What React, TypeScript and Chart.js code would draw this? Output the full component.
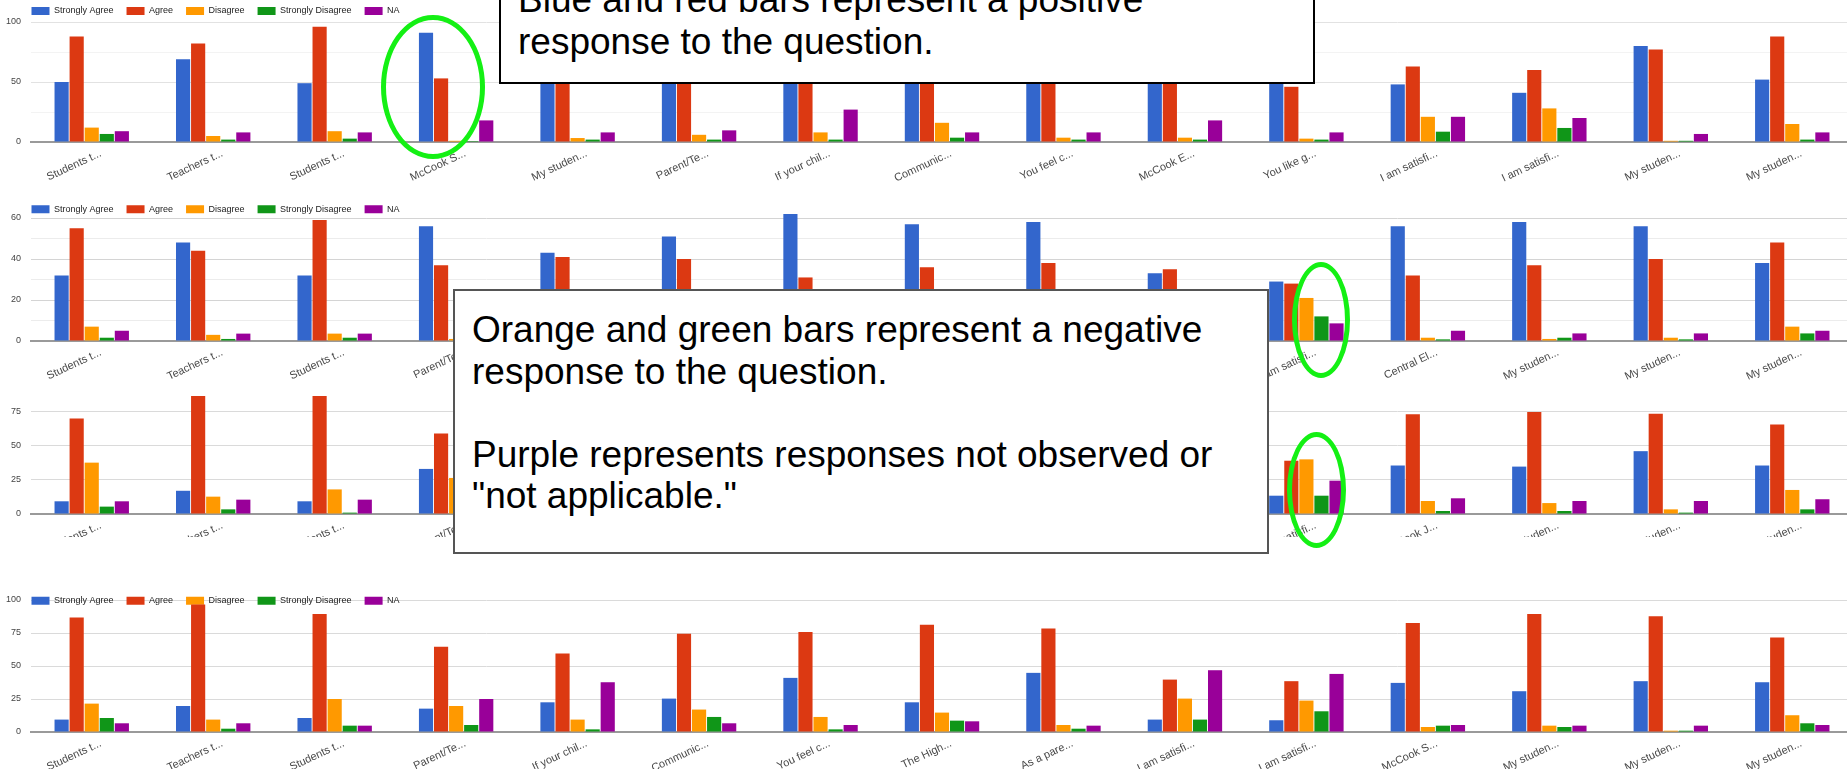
import React, { useEffect, useRef } from 'react';
import { Chart, registerables } from 'chart.js';

Chart.register(...registerables);

const FONT = "'Liberation Sans', Arial, Helvetica, sans-serif";
Chart.defaults.font.family = FONT;

const SERIES = ['Strongly Agree', 'Agree', 'Disagree', 'Strongly Disagree', 'NA'];
const COLORS = ['#3366cc', '#dc3912', '#ff9900', '#109618', '#990099'];

// ---- Chart 1 ----
const labels1 = ['Students t...', 'Teachers t...', 'Students t...', 'McCook S...', 'My studen...', 'Parent/Te...', 'If your chil...', 'Communic...', 'You feel c...', 'McCook E...', 'You like g...', 'I am satisfi...', 'I am satisfi...', 'My studen...', 'My studen...'];
const sa1 = [50, 69, 49, 91, 72, 68, 64, 70, 66, 62, 56, 48, 41, 80, 52];
const a1 = [88, 82, 96, 53, 85, 86, 80, 82, 88, 84, 46, 63, 60, 77, 88];
const d1 = [12, 5, 9, 1, 3.3, 6, 8, 16, 3.6, 3.6, 2.8, 21, 28, 1, 15];
const sd1 = [6.7, 2, 2.8, 0.8, 2, 2, 2, 3.6, 2, 2, 2, 8.6, 11.7, 1, 2];
const na1 = [9, 8, 8, 18, 8, 9.7, 27, 8, 8, 18, 8, 21, 20, 6.7, 8];

// ---- Chart 2 ----
const labels2 = ['Students t...', 'Teachers t...', 'Students t...', 'Parent/Te...', 'My studen...', 'If your chil...', 'Communic...', 'You feel c...', 'McCook E...', 'You like g...', 'I am satisfi...', 'Central El...', 'My studen...', 'My studen...', 'My studen...'];
const sa2 = [32, 48, 32, 56, 43, 51, 62, 57, 58, 33, 29, 56, 58, 56, 38];
const a2 = [55, 44, 59, 37, 41, 40, 31, 36, 38, 35, 28, 32, 37, 40, 48];
const d2 = [7, 3, 3.6, 1, 4, 3, 2, 3, 2, 8, 21, 1.6, 1, 1.6, 7];
const sd2 = [1.6, 1, 1.6, 1, 1, 1, 1, 1, 1, 2, 12, 0.8, 1.6, 0.8, 3.7];
const na2 = [5, 3.6, 3.6, 4, 3, 4, 4, 3, 3, 5, 8.6, 5, 3.7, 3.7, 5];

// ---- Chart 3 ----
const labels3 = ['Students t...', 'Teachers t...', 'Students t...', 'Parent/Te...', 'If your chil...', 'Communic...', 'You feel c...', 'The High...', 'As a pare...', 'I am satisfi...', 'I am satisfi...', 'McCook J...', 'My studen...', 'My studen...', 'My studen...'];
const sa3 = [9.3, 17, 9.3, 33, 20, 24, 38, 21, 42, 10, 13.4, 35.5, 34.7, 46, 35.5];
const a3 = [70, 88, 88, 59, 58, 72, 74, 80, 76, 40, 39, 73, 74.6, 73.3, 65.5];
const d3 = [37.6, 12.7, 18, 26.4, 10, 16, 11, 14, 6, 27, 40, 9.5, 8, 3.4, 17.6];
const sd3 = [5.4, 3.4, 1, 5, 2, 10, 2, 8, 2, 10, 13.4, 2.2, 2.2, 1, 3.4];
const na3 = [9.3, 10.5, 10.5, 24, 36, 7, 5, 8, 5, 45, 24.4, 11.5, 9.5, 9.5, 10.8];

// ---- Chart 4 ----
const labels4 = ['Students t...', 'Teachers t...', 'Students t...', 'Parent/Te...', 'If your chil...', 'Communic...', 'You feel c...', 'The High...', 'As a pare...', 'I am satisfi...', 'I am satisfi...', 'McCook S...', 'My studen...', 'My studen...', 'My studen...'];
const sa4 = [9.4, 19.7, 10.6, 17.7, 22.5, 25.3, 41, 22.5, 44.8, 9.4, 8.9, 37.2, 30.9, 38.5, 37.7];
const a4 = [86.8, 96.5, 89.4, 64.6, 59.5, 74.4, 75.7, 81.3, 78.5, 39.7, 38.5, 82.5, 89.4, 87.6, 71.6];
const d4 = [21.5, 9.4, 25, 19.7, 9.4, 17, 11.4, 14.7, 5.3, 25.3, 23.8, 3.8, 4.8, 1, 12.7];
const sd4 = [10.6, 2.5, 4.8, 5.3, 2, 11.4, 2, 8.6, 2.5, 9.4, 15.7, 4.8, 3.8, 1, 6.6];
const na4 = [6.6, 6.6, 4.8, 25, 37.7, 6.6, 5.3, 8.1, 4.8, 46.8, 44, 5.3, 4.8, 4.8, 5.3];

const CANVAS_W = 1853;
const LEGEND_PAD = 13;
const LEGEND_FONT = 9;

type Spec = {
  labels: string[];
  series: number[][];
  max: number;
  step: number;
  labelEvery: number;
  majorColor: string;
  minorColor: string;
  boxTop: number;
  boxHeight: number;
  areaTop: number;
  areaBottom: number;
  legendCy: number | null; // legend centre relative to chart area top
};

const specs: Spec[] = [
  { labels: labels1, series: [sa1, a1, d1, sd1, na1], max: 100, step: 25, labelEvery: 50, majorColor: '#e2e2e2', minorColor: '#f3f3f3', boxTop: 0, boxHeight: 190, areaTop: 22, areaBottom: 142, legendCy: -11 },
  { labels: labels2, series: [sa2, a2, d2, sd2, na2], max: 60, step: 10, labelEvery: 20, majorColor: '#d4d4d4', minorColor: '#ececec', boxTop: 190, boxHeight: 200, areaTop: 218, areaBottom: 340.7, legendCy: -8.7 },
  { labels: labels3, series: [sa3, a3, d3, sd3, na3], max: 100, step: 25, labelEvery: 25, majorColor: '#dadada', minorColor: '#dadada', boxTop: 396, boxHeight: 141, areaTop: 377.2, areaBottom: 513.7, legendCy: null },
  { labels: labels4, series: [sa4, a4, d4, sd4, na4], max: 100, step: 25, labelEvery: 25, majorColor: '#dadada', minorColor: '#dadada', boxTop: 555, boxHeight: 214, areaTop: 600.3, areaBottom: 732, legendCy: 0.7 },
];

const legendShift = {
  id: 'legendShift',
  afterLayout(chart: any, _args: any, opts: any) {
    const l = chart.legend;
    if (!l || !opts || opts.cy === undefined || opts.cy === null) return;
    const newTop = chart.chartArea.top + opts.cy - LEGEND_PAD - LEGEND_FONT / 2;
    const newLeft = opts.left - LEGEND_PAD;
    const dy = newTop - l.top;
    const dx = newLeft - l.left;
    l.top += dy; l.bottom += dy;
    l.left += dx; l.right += dx;
  },
};

function Panel({ spec }: { spec: Spec }) {
  const ref = useRef<HTMLCanvasElement | null>(null);
  const hasLegend = spec.legendCy !== null;
  const initH = Math.round((hasLegend ? 32 : 4) + (spec.areaBottom - spec.areaTop) + 50);

  useEffect(() => {
    const canvas = ref.current;
    if (!canvas) return;
    const chart = new Chart(canvas, {
      type: 'bar',
      data: {
        labels: spec.labels,
        datasets: SERIES.map((name, i) => ({
          label: name,
          data: spec.series[i],
          backgroundColor: COLORS[i],
          borderWidth: 0,
          barPercentage: 0.94,
          categoryPercentage: 0.62,
          clip: false as any,
        })),
      },
      options: {
        animation: false,
        responsive: false,
        maintainAspectRatio: false,
        devicePixelRatio: 1,
        layout: { padding: { left: 0, right: 0, top: hasLegend ? 0 : 4, bottom: 0 } },
        plugins: {
          legend: {
            display: hasLegend,
            position: 'top',
            align: 'start',
            labels: {
              boxWidth: 18,
              boxHeight: 8,
              padding: LEGEND_PAD,
              color: '#222',
              font: { size: LEGEND_FONT, family: FONT },
            },
          },
          tooltip: { enabled: false },
          legendShift: { cy: spec.legendCy, left: 31.5 },
        } as any,
        scales: {
          x: {
            offset: true,
            grid: { color: 'rgba(0,0,0,0)', drawTicks: false },
            border: { display: true, color: '#9a9a9a', width: 2 },
            ticks: {
              autoSkip: false,
              minRotation: 25,
              maxRotation: 25,
              labelOffset: 9,
              padding: 5,
              color: '#4a4a4a',
              font: { size: 11, family: FONT },
            },
            afterFit: (s: any) => { s.height = 50; },
          },
          y: {
            min: 0,
            max: spec.max,
            grid: {
              drawTicks: false,
              color: (c: any) => (c.tick && c.tick.value % spec.labelEvery === 0 ? spec.majorColor : spec.minorColor),
            },
            border: { display: false },
            ticks: {
              stepSize: spec.step,
              padding: 10,
              color: '#444',
              font: { size: 9, family: FONT },
              callback: (v: any) => (Number(v) % spec.labelEvery === 0 ? String(v) : ''),
            },
            afterFit: (s: any) => { s.width = 31; },
          },
        },
      },
      plugins: [legendShift],
    });

    const need = spec.areaBottom - spec.areaTop;
    const cur = chart.chartArea.bottom - chart.chartArea.top;
    if (Math.abs(need - cur) > 0.2) {
      chart.resize(CANVAS_W, Math.round(chart.height + need - cur));
    }
    canvas.style.top = `${spec.areaTop - chart.chartArea.top - spec.boxTop}px`;

    return () => chart.destroy();
  }, [spec]);

  return (
    <div style={{ position: 'absolute', left: 0, top: spec.boxTop, width: 1847, height: spec.boxHeight, overflow: 'hidden' }}>
      <canvas ref={ref} width={CANVAS_W} height={initH} style={{ position: 'absolute', left: 0, top: 0, width: CANVAS_W, height: initH, display: 'block' }} />
    </div>
  );
}

const LINE_H = 41.5;
const textLine: React.CSSProperties = { whiteSpace: 'nowrap', height: LINE_H };

function Ellipse({ x0, y0, x1, y1 }: { x0: number; y0: number; x1: number; y1: number }) {
  return (
    <div style={{ position: 'absolute', left: x0, top: y0, width: x1 - x0, height: y1 - y0, border: '5px solid #14f014', borderRadius: '50%', boxSizing: 'border-box' }} />
  );
}

export default function App() {
  return (
    <div style={{ position: 'absolute', left: 0, top: 0, width: 1847, height: 769, overflow: 'hidden', background: '#fff', fontFamily: FONT }}>
      {specs.map((s, i) => <Panel key={i} spec={s} />)}

      <div style={{ position: 'absolute', left: 499, top: -48, width: 816, height: 132, boxSizing: 'border-box', border: '2.5px solid #000', background: '#fff', paddingLeft: 17, paddingTop: 25.4, fontSize: 37, lineHeight: `${LINE_H}px`, color: '#000' }}>
        <div style={textLine}>Blue and red bars represent a positive</div>
        <div style={textLine}>response to the question.</div>
      </div>

      <div style={{ position: 'absolute', left: 453, top: 289, width: 816, height: 265, boxSizing: 'border-box', border: '2px solid #555', background: '#fff', paddingLeft: 17, paddingTop: 18.1, fontSize: 37, lineHeight: `${LINE_H}px`, color: '#000' }}>
        <div style={textLine}>Orange and green bars represent a negative</div>
        <div style={textLine}>response to the question.</div>
        <div style={textLine}>{'\u00a0'}</div>
        <div style={textLine}>Purple represents responses not observed or</div>
        <div style={textLine}>"not applicable."</div>
      </div>

      <Ellipse x0={381} y0={15} x1={485} y1={159} />
      <Ellipse x0={1292} y0={262} x1={1350} y1={378} />
      <Ellipse x0={1287} y0={432} x1={1346} y1={548} />
    </div>
  );
}
